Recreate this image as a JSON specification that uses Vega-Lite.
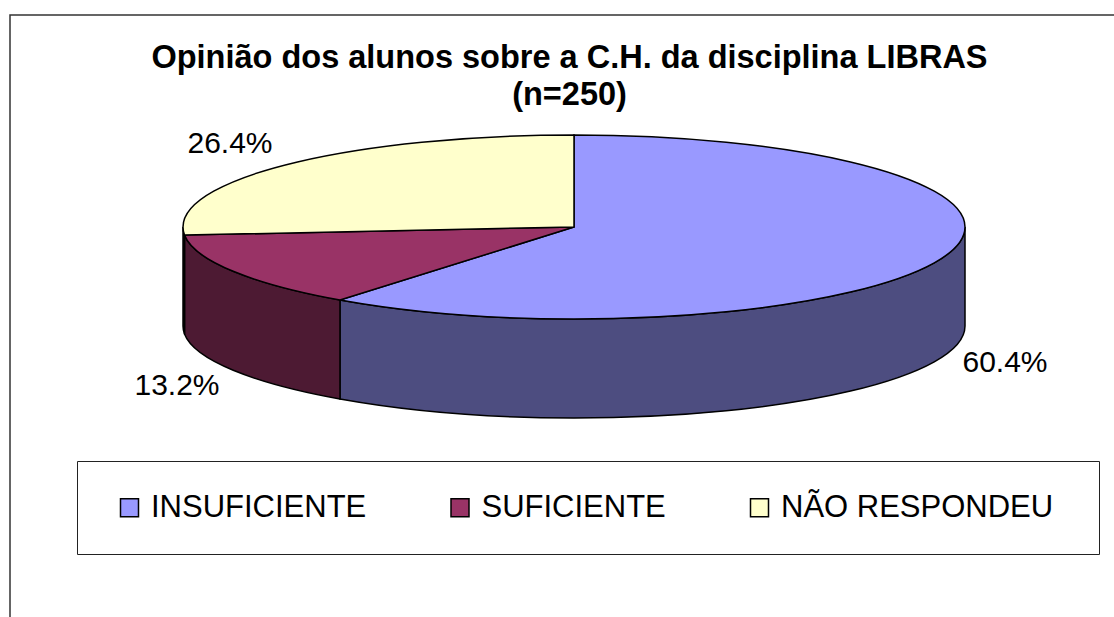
{
  "$schema": "https://vega.github.io/schema/vega-lite/v6.json",
  "width": 1110,
  "height": 610,
  "padding": {"left": 10, "top": 15, "right": 0, "bottom": 0},
  "autosize": {"type": "none"},
  "background": "white",
  "view": {"stroke": "#333333", "strokeWidth": 1.5, "fill": "white"},
  "config": {"font": "Liberation Sans"},
  "title": {
    "text": ["Opinião dos alunos sobre a C.H. da disciplina LIBRAS", "(n=250)"],
    "font": "Liberation Sans",
    "fontSize": 32.5,
    "fontWeight": "bold",
    "color": "black",
    "anchor": "middle",
    "frame": "group",
    "baseline": "alphabetic",
    "lineHeight": 37,
    "dy": 126,
    "dx": 4.5
  },
  "data": {
    "values": [
      {"categoria": "INSUFICIENTE", "pct": 60.4, "rotulo": "60.4%"},
      {"categoria": "SUFICIENTE", "pct": 13.2, "rotulo": "13.2%"},
      {"categoria": "NÃO RESPONDEU", "pct": 26.4, "rotulo": "26.4%"}
    ]
  },
  "layer": [
    {
      "mark": {"type": "square", "size": 1, "stroke": "black", "strokeWidth": 1.5, "opacity": 1},
      "encoding": {
        "x": {"field": "pct", "type": "quantitative", "axis": null, "scale": {"domain": [13.2, 60.4], "range": [564, 564], "zero": false, "nice": false}},
        "y": {"field": "pct", "type": "quantitative", "axis": null, "scale": {"domain": [13.2, 60.4], "range": [212, 212], "zero": false, "nice": false}},
        "color": {
          "field": "categoria",
          "type": "nominal",
          "sort": null,
          "scale": {"domain": ["INSUFICIENTE", "SUFICIENTE", "NÃO RESPONDEU"], "range": ["#9999ff", "#993366", "#ffffcc"]},
          "legend": {
            "orient": "none",
            "legendX": 67,
            "legendY": 446,
            "direction": "horizontal",
            "columns": 3,
            "title": " ",
            "titleOrient": "right",
            "titleFontSize": 1,
            "titlePadding": 15,
            "symbolType": "square",
            "symbolSize": 324,
            "symbolOffset": 6,
            "symbolStrokeColor": "black",
            "symbolStrokeWidth": 1.5,
            "labelFont": "Liberation Sans",
            "labelFontSize": 31,
            "labelColor": "black",
            "labelLimit": 400,
            "labelOffset": 6,
            "columnPadding": 71.5,
            "padding": 31,
            "strokeColor": "#222222",
            "fillColor": "white"
          }
        }
      }
    },
    {
      "mark": {"type": "point", "filled": true, "size": 611524, "stroke": "black", "strokeWidth": 1.5, "opacity": 1},
      "encoding": {
        "x": {"field": "pct", "type": "quantitative", "axis": null, "scale": {"domain": [13.2, 60.4], "range": [564, 564], "zero": false, "nice": false}},
        "y": {"field": "pct", "type": "quantitative", "axis": null, "scale": {"domain": [13.2, 60.4], "range": [212, 212], "zero": false, "nice": false}},
        "color": {"field": "categoria", "type": "nominal", "legend": null, "scale": {"domain": ["INSUFICIENTE", "SUFICIENTE", "NÃO RESPONDEU"], "range": ["#4d4d80", "#4d1a33", "#808066"]}},
        "shape": {"field": "categoria", "type": "nominal", "legend": null, "scale": {"domain": ["INSUFICIENTE", "SUFICIENTE", "NÃO RESPONDEU"], "range": [
          "M1,0C1,0.13 0.5523,0.2353 0,0.2353C-0.21976,0.2353 -0.4240,0.21824 -0.5985,0.1868L-0.5985,0.4400C-0.4240,0.47144 -0.21976,0.4885 0,0.4885C0.5523,0.4885 1,0.3832 1,0.2532Z",
          "M-0.5985,0.1868C-0.8212,0.14667 -0.9715,0.08642 -0.99613,0.02067L-0.99613,0.27387C-0.9715,0.33962 -0.8212,0.39987 -0.5985,0.4400Z",
          "M-0.99613,0.02067C-0.9987,0.0138 -1,0.0069 -1,0L-1,0.2532C-1,0.2601 -0.9987,0.267 -0.99613,0.27387Z"
        ]}}
      }
    },
    {
      "mark": {"type": "point", "filled": true, "size": 611524, "stroke": "black", "strokeWidth": 1.5, "opacity": 1},
      "encoding": {
        "x": {"field": "pct", "type": "quantitative", "axis": null, "scale": {"domain": [13.2, 60.4], "range": [564, 564], "zero": false, "nice": false}},
        "y": {"field": "pct", "type": "quantitative", "axis": null, "scale": {"domain": [13.2, 60.4], "range": [212, 212], "zero": false, "nice": false}},
        "color": {
          "field": "categoria",
          "type": "nominal",
          "legend": null,
          "scale": {"domain": ["INSUFICIENTE", "SUFICIENTE", "NÃO RESPONDEU"], "range": ["#9999ff", "#993366", "#ffffcc"]}
        },
        "shape": {"field": "categoria", "type": "nominal", "legend": null, "scale": {"domain": ["INSUFICIENTE", "SUFICIENTE", "NÃO RESPONDEU"], "range": [
          "M0,0L0,-0.2353C0.5523,-0.2353 1,-0.13 1,0C1,0.13 0.5523,0.2353 0,0.2353C-0.21976,0.2353 -0.4240,0.21824 -0.5985,0.1868Z",
          "M0,0L-0.5985,0.1868C-0.8212,0.14667 -0.9715,0.08642 -0.99613,0.02067Z",
          "M0,0L-0.99613,0.02067C-0.9987,0.0138 -1,0.0069 -1,0C-1,-0.13 -0.5523,-0.2353 0,-0.2353Z"
        ]}}
      }
    },
    {
      "mark": {"type": "text", "font": "Liberation Sans", "fontSize": 30, "color": "black", "align": "center", "baseline": "middle"},
      "encoding": {
        "x": {"field": "pct", "type": "quantitative", "axis": null, "scale": {"domain": [13.2, 26.4, 60.4], "range": [167, 220, 995], "zero": false, "nice": false}},
        "y": {"field": "pct", "type": "quantitative", "axis": null, "scale": {"domain": [13.2, 26.4, 60.4], "range": [371, 129, 348], "zero": false, "nice": false}},
        "text": {"field": "rotulo", "type": "nominal"}
      }
    }
  ],
  "resolve": {
    "scale": {"x": "independent", "y": "independent", "color": "independent", "shape": "independent"},
    "legend": {"color": "independent"}
  }
}
